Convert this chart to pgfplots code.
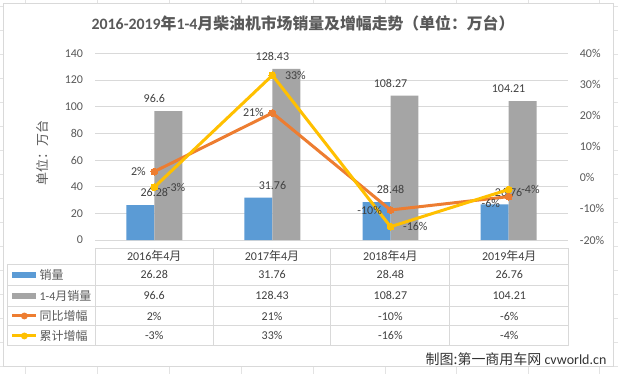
\documentclass[border=0pt]{standalone}
\usepackage{pgfplots}
\pgfplotsset{compat=1.18}
\usepackage{pgfplotstable}
\usepackage{fontspec}
\setmainfont{Carlito}
\newfontfamily\cjk{Noto Sans CJK SC}
\newcommand{\zh}[1]{{\cjk #1}}
\definecolor{cblue}{HTML}{5B9BD5}
\definecolor{cgray}{HTML}{A5A5A5}
\definecolor{corange}{HTML}{ED7D31}
\definecolor{cyellow}{HTML}{FFC000}
\definecolor{gridc}{HTML}{D9D9D9}
\definecolor{txt}{HTML}{595959}
\definecolor{lbl}{HTML}{404040}
\definecolor{cellc}{HTML}{E3E3E3}

\pgfplotstableread{
x sales cum yoy cumg yoyL cumgL dy
0 26.28 96.6 2 -3 2 -3 0
1 31.76 128.43 20.85 32.95 21 33 0
2 28.48 108.27 -10.33 -15.70 -10 -16 0
3 26.76 104.21 -6.04 -3.75 -6 -4 -5
}\data

\begin{document}
\begin{tikzpicture}
\begin{scope}[x=0.75pt,y=-0.75pt,yshift=280.5pt]
  \fill[white] (0,0) rectangle (618,374);
  % excel cell grid fragments outside the chart
  \foreach \xx in {25,97,169,241,313,385,457,529,600}{
    \draw[cellc, line width=0.6pt] (\xx,0) -- (\xx,3);
    \draw[cellc, line width=0.6pt] (\xx,367) -- (\xx,374);
  }
  \foreach \yy in {6,30,...,366}{
    \draw[cellc, line width=0.6pt] (0,\yy) -- (3,\yy);
    \draw[cellc, line width=0.6pt] (614,\yy) -- (618,\yy);
  }
  % chart border
  \draw[gridc, line width=0.75pt] (3,3) rectangle (614,367);
  % title
  \node[font=\fontsize{11.9}{13}\selectfont\bfseries, text=txt] at (303,23)
    {2016-2019\zh{年}1-4\zh{月柴油机市场销量及增幅走势（单位：万台）}};
  % y label
  \node[rotate=90, text=txt, font=\cjk\fontsize{9.75}{11}\selectfont] at (42,153) {单位：万台};
  % data table
  \begin{scope}[gridc, line width=0.75pt]
    \draw (95,248) -- (569,248);
    \foreach \yy in {264,285,306,326,346}{ \draw (7,\yy) -- (569,\yy); }
    \foreach \xx in {95,213,331,450,569}{ \draw (\xx,248) -- (\xx,346); }
    \draw (7,264) -- (7,346);
  \end{scope}
  \begin{scope}[every node/.style={font=\fontsize{9}{11}\selectfont, text=lbl}]
    \node at (154,256) {2016\zh{年}4\zh{月}};
    \node at (272,256) {2017\zh{年}4\zh{月}};
    \node at (390.5,256) {2018\zh{年}4\zh{月}};
    \node at (509.5,256) {2019\zh{年}4\zh{月}};
    \node at (154,274.5) {26.28};
    \node at (272,274.5) {31.76};
    \node at (390.5,274.5) {28.48};
    \node at (509.5,274.5) {26.76};
    \node at (154,295.5) {96.6};
    \node at (272,295.5) {128.43};
    \node at (390.5,295.5) {108.27};
    \node at (509.5,295.5) {104.21};
    \node at (154,316) {2\%};
    \node at (272,316) {21\%};
    \node at (390.5,316) {-10\%};
    \node at (509.5,316) {-6\%};
    \node at (154,336) {-3\%};
    \node at (272,336) {33\%};
    \node at (390.5,336) {-16\%};
    \node at (509.5,336) {-4\%};
  \end{scope}
  % legend keys
  \fill[cblue] (12,271.5) rectangle (36,277.5);
  \fill[cgray] (12,292.5) rectangle (36,298.5);
  \draw[corange, line width=2.25pt] (12,316) -- (36,316);
  \fill[corange] (24,316) circle (2.6pt);
  \draw[cyellow, line width=2.25pt] (12,336) -- (36,336);
  \fill[cyellow] (24,336) circle (2.6pt);
  \begin{scope}[every node/.style={font=\fontsize{9}{11}\selectfont, text=txt, anchor=west, inner sep=0pt}]
    \node at (39,274.5) {\zh{销量}};
    \node at (39,295.5) {1-4\zh{月销量}};
    \node at (39,316) {\zh{同比增幅}};
    \node at (39,336) {\zh{累计增幅}};
  \end{scope}
  % watermark
  \node[anchor=east, inner sep=0pt, font=\fontsize{10.5}{12}\selectfont, text=black!80] at (607,359)
    {\zh{制图:第一商用车网} cvworld.cn};
\end{scope}

\begin{axis}[
  at={(71.25pt,100.5pt)}, anchor=south west,
  width=354.75pt, height=140.25pt, scale only axis,
  xmin=-0.5, xmax=3.5, ymin=0, ymax=140,
  xtick=\empty,
  ytick={0,20,40,60,80,100,120,140},
  yticklabels={0,20,40,60,80,100,120,140},
  ymajorgrids, grid style={gridc, line width=0.75pt},
  axis line style={draw=none},
  major tick length=0pt,
  yticklabel style={font=\fontsize{9}{10}\selectfont, text=txt, inner sep=0pt, xshift=-9pt},
  clip=false,
]
\addplot[ybar, bar width=21pt, bar shift=-10.5pt, fill=cblue, draw=none,
  nodes near coords, point meta=explicit symbolic,
  every node near coord/.append style={font=\fontsize{9}{10}\selectfont, text=lbl, inner sep=0pt, anchor=south, yshift=6pt}]
  table[x=x, y=sales, meta=sales] {\data};
\addplot[ybar, bar width=21pt, bar shift=10.5pt, fill=cgray, draw=none,
  nodes near coords, point meta=explicit symbolic,
  every node near coord/.append style={font=\fontsize{9}{10}\selectfont, text=lbl, inner sep=0pt, anchor=south, yshift=6pt}]
  table[x=x, y=cum, meta=cum] {\data};
\end{axis}

\begin{axis}[
  at={(71.25pt,100.5pt)}, anchor=south west,
  width=354.75pt, height=140.25pt, scale only axis,
  xmin=-0.5, xmax=3.5, ymin=-20, ymax=40,
  axis y line*=right, axis x line=none,
  xtick=\empty,
  ytick={-20,-10,0,10,20,30,40},
  yticklabels={-20\%,-10\%,0\%,10\%,20\%,30\%,40\%},
  y axis line style={draw=none},
  major tick length=0pt,
  yticklabel style={font=\fontsize{9}{10}\selectfont, text=txt, inner sep=0pt, anchor=west, xshift=9pt},
  clip=false,
]
\addplot[corange, line width=2.25pt, line join=round, mark=*, mark size=2.6pt,
  mark options={fill=corange, draw=corange, line width=0pt},
  nodes near coords={\pgfplotspointmeta\%}, point meta=explicit symbolic,
  visualization depends on={\thisrow{dy} \as \dyv},
  every node near coord/.append style={font=\fontsize{9}{10}\selectfont, text=lbl, inner sep=0pt, anchor=east, xshift=-6.5pt, yshift=\dyv pt}]
  table[x=x, y=yoy, meta=yoyL] {\data};
\addplot[cyellow, line width=2.25pt, line join=round, mark=*, mark size=2.6pt,
  mark options={fill=cyellow, draw=cyellow, line width=0pt},
  nodes near coords={\pgfplotspointmeta\%}, point meta=explicit symbolic,
  every node near coord/.append style={font=\fontsize{9}{10}\selectfont, text=lbl, inner sep=0pt, anchor=west, xshift=9.5pt}]
  table[x=x, y=cumg, meta=cumgL] {\data};
\end{axis}
\end{tikzpicture}
\end{document}
